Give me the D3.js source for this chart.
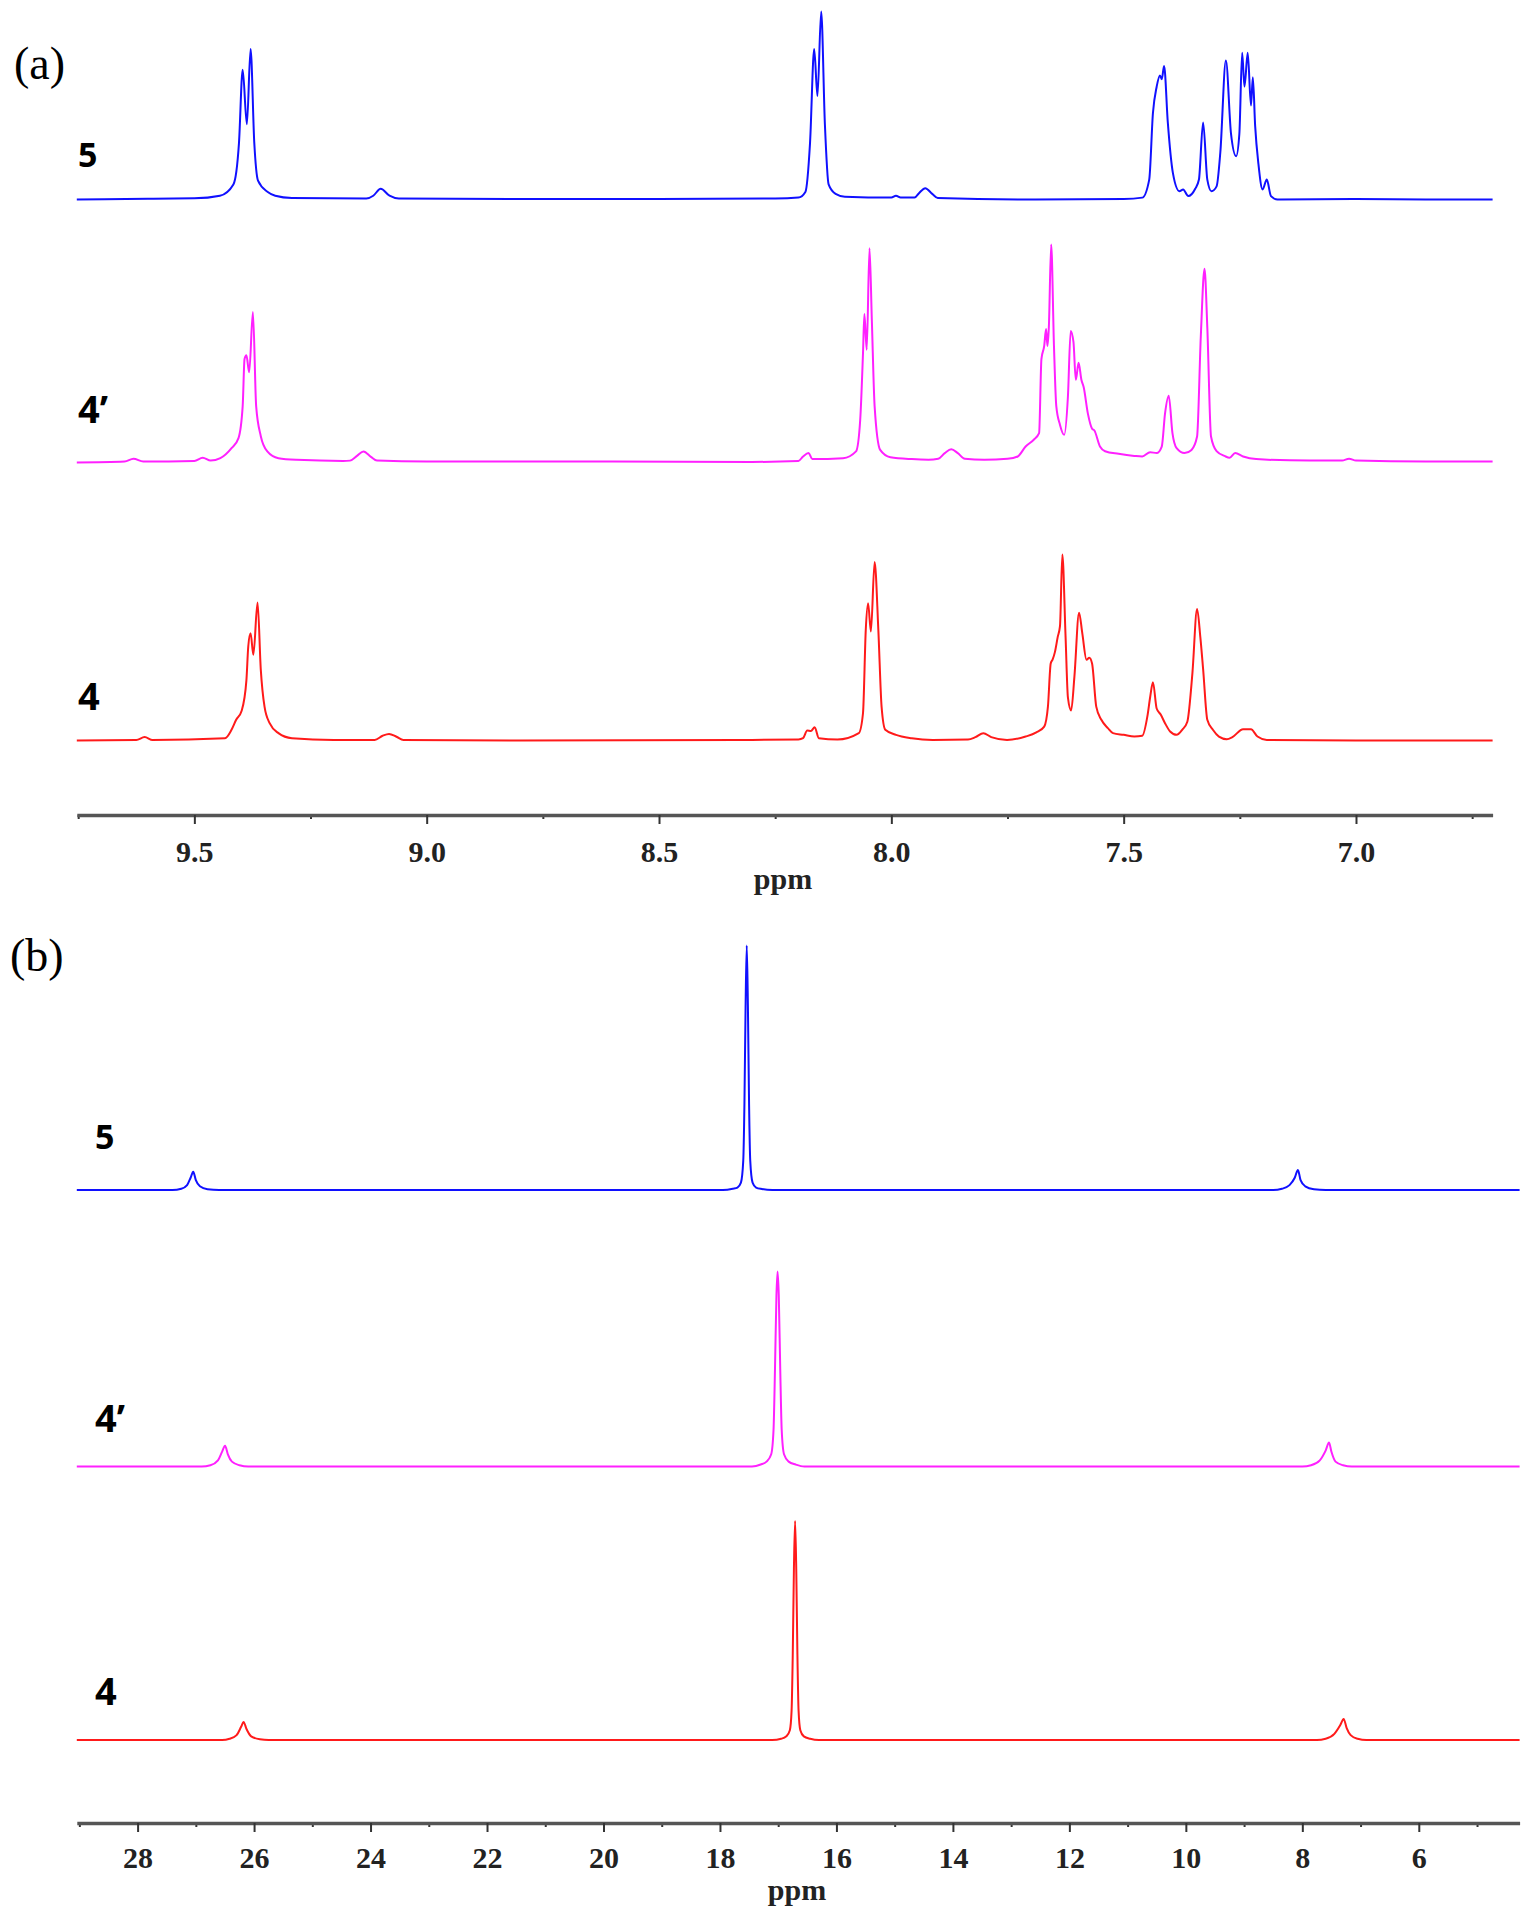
<!DOCTYPE html>
<html>
<head>
<meta charset="utf-8">
<script src="https://cdn.jsdelivr.net/npm/d3@7"></script>
<style>
  body { margin: 0; background: #fff; }
  svg { display: block; }
  .tick text { font-family: 'Liberation Serif', 'Times New Roman', serif; font-weight: bold; font-size: 30px; fill: #222; }
</style>
</head>
<body>
<svg id="canvas"></svg>
<script>
// 1H spectra, panel (a): [ppm, relative intensity]
const proton5 = [[9.753,0],[9.60,0.4],[9.50,0.6],[9.445,2],[9.416,8],[9.404,30],[9.396,69],[9.387,40],[9.379,80],[9.371,30],[9.363,10],[9.342,4],[9.326,2],[9.29,0.8],[9.13,0.5],[9.115,2],[9.099,5.7],[9.08,2],[9.06,0.5],[8.80,0.3],[8.50,0.3],[8.25,0.5],[8.20,1],[8.185,4],[8.175,30],[8.166,80],[8.159,55],[8.151,100],[8.143,40],[8.135,8],[8.12,3],[8.10,1.5],[8.00,1],[7.99,2],[7.98,1],[7.95,1],[7.94,3.5],[7.927,6],[7.912,3],[7.90,0.8],[7.70,0],[7.50,0.3],[7.460,1],[7.445,10.6],[7.437,46],[7.429,60],[7.422,66],[7.418,64],[7.413,71],[7.405,41],[7.394,14],[7.380,4.4],[7.372,5.3],[7.361,1.8],[7.346,5.7],[7.338,10.6],[7.329,41],[7.320,10.6],[7.311,4.4],[7.300,7],[7.292,25],[7.280,74],[7.269,35],[7.258,23],[7.251,35],[7.245,78],[7.240,60],[7.233,78],[7.226,50],[7.222,65],[7.217,39],[7.210,19],[7.201,5.3],[7.192,10.6],[7.183,1.8],[7.169,0],[7.00,0.3],[6.85,0],[6.706,0]]
const proton4p = [[9.753,0],[9.65,0.5],[9.631,2],[9.61,0.5],[9.50,0.8],[9.482,2.5],[9.465,1],[9.444,2.3],[9.420,7.6],[9.405,13],[9.396,30],[9.392,55],[9.388,57],[9.382,48],[9.374,80],[9.367,30],[9.357,14],[9.343,5.9],[9.319,2.3],[9.280,1.4],[9.18,0.8],[9.165,1],[9.150,3.5],[9.136,5.9],[9.120,3],[9.107,1],[9.00,0.5],[8.60,0.5],[8.30,0.3],[8.20,0.8],[8.190,3.2],[8.178,5],[8.170,1.8],[8.104,2.3],[8.076,5.9],[8.067,22.7],[8.061,58],[8.058,79],[8.053,60],[8.047,114],[8.042,76],[8.036,30],[8.024,6.7],[8.002,2.8],[7.956,1.8],[7.920,1.5],[7.899,2],[7.885,5],[7.871,7],[7.857,5],[7.842,2],[7.80,1.5],[7.75,2],[7.728,3.2],[7.711,8.5],[7.694,12],[7.682,15.6],[7.677,55],[7.671,62],[7.667,71],[7.664,62],[7.661,72],[7.656,116],[7.650,62],[7.645,30],[7.637,20],[7.628,14.7],[7.620,35],[7.614,70],[7.608,64],[7.603,44],[7.597,53],[7.591,44],[7.586,40],[7.577,26],[7.568,18],[7.563,17],[7.551,8.5],[7.540,6],[7.511,4.6],[7.477,3.5],[7.460,3.2],[7.443,5.5],[7.429,5],[7.418,8.5],[7.411,26],[7.403,35.5],[7.395,15.6],[7.386,7.6],[7.369,5],[7.354,6.7],[7.342,13.8],[7.334,67],[7.326,103],[7.320,72],[7.312,13.8],[7.300,6],[7.283,3.5],[7.272,2.5],[7.260,5],[7.243,3.2],[7.215,1.8],[7.10,1],[7.03,1],[7.015,2],[7.00,1],[6.85,0.5],[6.706,0.5]]
const proton4 = [[9.753,0],[9.625,0.3],[9.607,1.8],[9.59,0.3],[9.434,1.2],[9.420,5.7],[9.410,11],[9.398,16],[9.388,32],[9.384,50],[9.379,57],[9.373,45.6],[9.364,73.4],[9.357,37.6],[9.349,18],[9.338,9.2],[9.319,3.9],[9.290,1.2],[9.20,0.3],[9.112,0.3],[9.095,2.5],[9.081,3.5],[9.065,2],[9.050,0.3],[8.80,0],[8.30,0.3],[8.20,0.5],[8.190,1.2],[8.181,5.3],[8.173,5.1],[8.165,7],[8.156,1.2],[8.116,0.5],[8.070,3.9],[8.061,14.5],[8.055,59],[8.050,73],[8.044,58],[8.036,95],[8.028,59],[8.021,18],[8.013,5.7],[7.990,3],[7.956,1.2],[7.911,0.3],[7.835,0.5],[7.819,1.8],[7.802,3.9],[7.785,1.8],[7.751,0.3],[7.711,2.1],[7.688,4.3],[7.671,7.4],[7.663,18],[7.657,41],[7.653,43],[7.648,47],[7.642,55],[7.637,61],[7.632,99],[7.625,55],[7.620,23],[7.613,16],[7.606,34],[7.596,68],[7.589,57],[7.580,43],[7.574,44],[7.568,41],[7.559,18],[7.548,11],[7.534,6.6],[7.523,3.9],[7.500,3],[7.477,2.1],[7.460,2.5],[7.449,12.8],[7.443,23],[7.437,31],[7.429,17],[7.420,13.7],[7.411,9.2],[7.400,4.8],[7.386,3],[7.374,5.7],[7.363,10],[7.352,36],[7.342,70],[7.335,55],[7.329,38],[7.320,11],[7.308,5.7],[7.295,2.1],[7.278,0.7],[7.266,1.8],[7.243,6],[7.226,6],[7.212,2.1],[7.192,0.3],[7.00,0],[6.706,0]]

// 31P spectra, panel (b)
const phos5 = [[29.044,0],[27.40,0],[27.25,0.5],[27.15,2],[27.09,5],[27.045,7.5],[27.00,4],[26.93,1.5],[26.80,0.3],[26.6,0],[17.95,0],[17.78,0.5],[17.70,1],[17.64,3],[17.60,12],[17.58,35],[17.56,75],[17.54,100],[17.52,75],[17.50,35],[17.48,12],[17.44,3],[17.38,1],[17.28,0.4],[17.1,0],[8.50,0],[8.35,0.5],[8.22,2],[8.13,5],[8.075,8.2],[8.03,4],[7.95,1.5],[7.80,0.3],[7.6,0],[4.269,0]]
const phos4p = [[29.044,0],[26.90,0],[26.75,0.5],[26.62,2.5],[26.55,6],[26.498,8.5],[26.45,5],[26.38,2],[26.25,0.5],[26.1,0],[17.45,0],[17.30,0.8],[17.20,2],[17.12,5],[17.08,15],[17.055,40],[17.03,70],[17.011,79.8],[16.99,70],[16.965,40],[16.94,15],[16.90,5],[16.82,2],[16.70,0.8],[16.55,0],[8.00,0],[7.85,0.5],[7.70,2.5],[7.60,6.5],[7.541,9.8],[7.50,6],[7.43,2],[7.30,0.5],[7.15,0],[4.269,0]]
const phos4 = [[29.044,0],[26.55,0],[26.42,0.5],[26.30,2],[26.22,5.5],[26.18,7.4],[26.13,4.5],[26.05,1.5],[25.90,0.3],[25.75,0],[17.10,0],[16.95,0.5],[16.86,1.5],[16.80,4],[16.77,12],[16.75,35],[16.73,70],[16.71,89.6],[16.69,70],[16.67,35],[16.65,12],[16.62,4],[16.56,1.5],[16.45,0.5],[16.3,0],[7.75,0],[7.60,0.5],[7.45,2.5],[7.35,6],[7.29,8.6],[7.24,5],[7.17,2],[7.05,0.5],[6.9,0],[4.269,0]]

const compounds = ['5', '4’', '4']
const colors = ['#1010ff', '#ff20ff', '#ff1a1a']

const domainA = [9.753, 6.706]
const majorTicksA = [9.5, 9.0, 8.5, 8.0, 7.5, 7.0]
const minorTicksA = [9.75, 9.25, 8.75, 8.25, 7.75, 7.25, 6.75]
const domainB = [29.044, 4.269]
const majorTicksB = [28, 26, 24, 22, 20, 18, 16, 14, 12, 10, 8, 6]
const minorTicksB = [29, 27, 25, 23, 21, 19, 17, 15, 13, 11, 9, 7, 5]

const width = 1531
const height = 1920
const canvas = d3.select('#canvas').attr('width', width).attr('height', height)

const drawPanel = (cfg) => {
    const x = d3.scaleLinear().domain(cfg.domain).range([76.8, cfg.right])
    const y = d3.scaleLinear().domain([0, 100]).range([0, -cfg.scaleHeight])
    const line = d3.line()
        .x(d => x(d[0]))
        .y(d => y(d[1]))
        .curve(d3.curveMonotoneX)

    cfg.series.forEach((s, i) => {
        const g = canvas.append('g').attr('transform', 'translate(0,' + cfg.baselines[i] + ')')
        g.append('path')
            .datum(s)
            .attr('d', line)
            .attr('fill', 'none')
            .attr('stroke', colors[i])
            .attr('stroke-width', 2)
            .attr('stroke-linejoin', 'round')
        canvas.append('text')
            .attr('x', cfg.labelX)
            .attr('y', cfg.labelY[i])
            .attr('font-family', "'Open Sans', sans-serif")
            .attr('font-weight', 'bold')
            .attr('font-size', i === 0 ? 34 : 38)
            .text(compounds[i])
    })

    const axis = canvas.append('g').attr('transform', 'translate(0,' + cfg.axisY + ')')
    axis.append('g')
        .call(d3.axisBottom(x).tickValues(cfg.minor).tickSize(4).tickSizeOuter(0).tickFormat(''))
        .call(g => g.select('.domain').remove())
        .selectAll('line').attr('stroke', '#333').attr('stroke-width', 2)
    const major = axis.append('g')
        .call(d3.axisBottom(x).tickValues(cfg.major).tickSize(9).tickSizeOuter(0)
            .tickPadding(cfg.pad).tickFormat(cfg.format))
    major.select('.domain').attr('stroke', '#555').attr('stroke-width', 3.5)
    major.selectAll('.tick line').attr('stroke', '#333').attr('stroke-width', 2)

    canvas.append('text')
        .attr('x', cfg.ppmX)
        .attr('y', cfg.ppmY)
        .attr('text-anchor', 'middle')
        .attr('font-family', "'Liberation Serif', serif")
        .attr('font-weight', 'bold')
        .attr('font-size', 30)
        .attr('fill', '#222')
        .text('ppm')

    canvas.append('text')
        .attr('x', cfg.tagX)
        .attr('y', cfg.tagY)
        .attr('font-family', "'Liberation Serif', serif")
        .attr('font-size', 46)
        .text(cfg.tag)
}

drawPanel({
    tag: '(a)', tagX: 14, tagY: 79,
    domain: domainA, right: 1492.6, scaleHeight: 188,
    series: [proton5, proton4p, proton4],
    baselines: [199.5, 462.5, 740.5],
    labelX: 78, labelY: [167, 423, 710],
    axisY: 815, major: majorTicksA, minor: minorTicksA, pad: 17, format: d3.format('.1f'),
    ppmX: 783, ppmY: 889
})

drawPanel({
    tag: '(b)', tagX: 10, tagY: 971,
    domain: domainB, right: 1519.6, scaleHeight: 244.5,
    series: [phos5, phos4p, phos4],
    baselines: [1190, 1466.5, 1740],
    labelX: 95, labelY: [1149, 1432, 1705],
    axisY: 1823, major: majorTicksB, minor: minorTicksB, pad: 15, format: d3.format('d'),
    ppmX: 797, ppmY: 1900
})
</script>
</body>
</html>
